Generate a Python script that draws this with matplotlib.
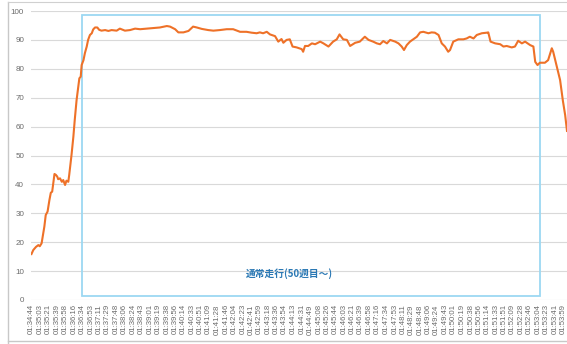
import matplotlib
matplotlib.use("Agg")
import matplotlib.pyplot as plt
from matplotlib.patches import Rectangle
from matplotlib.lines import Line2D

# ---- data ----
tick_labels = [
    "01:34:44", "01:35:03", "01:35:21", "01:35:39", "01:35:58", "01:36:16", "01:36:34", "01:36:53",
    "01:37:11", "01:37:29", "01:37:48", "01:38:06", "01:38:24", "01:38:43", "01:39:01", "01:39:19",
    "01:39:38", "01:39:56", "01:40:14", "01:40:33", "01:40:51", "01:41:09", "01:41:28", "01:41:46",
    "01:42:04", "01:42:23", "01:42:41", "01:42:59", "01:43:18", "01:43:36", "01:43:54", "01:44:13",
    "01:44:31", "01:44:49", "01:45:08", "01:45:26", "01:45:44", "01:46:03", "01:46:21", "01:46:39",
    "01:46:58", "01:47:16", "01:47:34", "01:47:53", "01:48:11", "01:48:29", "01:48:48", "01:49:06",
    "01:49:24", "01:49:43", "01:50:01", "01:50:19", "01:50:38", "01:50:56", "01:51:14", "01:51:33",
    "01:51:51", "01:52:09", "01:52:28", "01:52:46", "01:53:04", "01:53:23", "01:53:41", "01:53:59",
]

# elapsed seconds since 01:34:44
elapsed_s = [
    0, 4, 10, 15, 18, 22, 28, 31, 35, 39, 42, 45, 50, 53, 56, 58, 62, 66, 69, 73,
    76, 80, 82, 85, 87, 91, 94, 98, 102, 104, 107, 109, 113, 116, 120, 123, 127, 131, 134, 138,
    143, 147, 152, 160, 167, 174, 185, 192, 203, 214, 225, 236, 250, 265, 279, 294, 301, 312, 319, 330,
    341, 351, 359, 370, 384, 395, 409, 424, 438, 453, 467, 478, 489, 496, 503, 511, 518, 529, 536, 543,
    547, 554, 561, 567, 576, 587, 590, 594, 601, 609, 616, 627, 634, 645, 655, 663, 669, 677, 685, 692,
    703, 713, 724, 732, 742, 750, 757, 764, 772, 779, 790, 797, 804, 809, 815, 822, 829, 837, 844, 851,
    862, 869, 876, 884, 891, 898, 905, 909, 916, 927, 938, 945, 952, 960, 967, 978, 989, 992, 997, 1007,
    1018, 1025, 1032, 1043, 1050, 1057, 1065, 1072, 1083, 1090, 1094, 1099, 1104, 1115, 1122, 1130, 1133, 1141, 1148, 1154,
    1159, 1163,
]
values = [
    15.9, 17.3, 18.4, 19.0, 18.6, 19.6, 25.4, 29.4, 30.6, 34.6, 37.1, 37.5, 43.6, 43.3, 42.7, 41.8, 42.1, 40.9, 41.5, 39.8,
    41.3, 40.9, 43.3, 47.3, 50.2, 56.5, 62.3, 69.2, 74.4, 76.7, 77.3, 81.3, 83.0, 85.4, 87.7, 90.0, 91.7, 92.3, 93.6, 94.3,
    94.3, 93.5, 93.2, 93.4, 93.1, 93.4, 93.2, 93.9, 93.2, 93.4, 93.9, 93.7, 93.9, 94.1, 94.3, 94.8, 94.6, 93.7, 92.6, 92.6,
    93.1, 94.6, 94.3, 93.8, 93.4, 93.2, 93.4, 93.7, 93.7, 92.8, 92.8, 92.5, 92.3, 92.6, 92.3, 92.8, 91.9, 91.3, 89.4, 90.3,
    89.0, 90.0, 90.2, 87.7, 87.4, 86.8, 85.9, 87.9, 87.9, 88.8, 88.5, 89.4, 88.8, 87.7, 89.4, 90.2, 91.9, 90.2, 90.0, 87.9,
    89.0, 89.4, 91.1, 90.0, 89.4, 88.8, 88.5, 89.6, 88.8, 90.0, 89.4, 88.8, 87.7, 86.5, 88.2, 89.4, 90.2, 91.1, 92.6, 92.8,
    92.3, 92.6, 92.5, 91.7, 88.8, 87.7, 85.9, 86.5, 89.4, 90.2, 90.2, 90.5, 91.1, 90.5, 91.7, 92.3, 92.5, 92.6, 89.4, 88.8,
    88.5, 87.7, 87.9, 87.4, 87.7, 89.7, 88.8, 89.4, 88.2, 87.7, 82.4, 81.3, 82.1, 82.1, 83.0, 87.1, 85.9, 80.7, 76.1, 69.0,
    64.0, 58.5,
]

region_label = "通常走行(50週目～)"
region_start_s, region_end_s = 110, 1104
region_low, region_high = 1.5, 98.6

y_ticks = list(range(0, 101, 10))


def to_seconds(s):
    h, m, sec = (int(p) for p in s.split(":"))
    return h * 3600 + m * 60 + sec


t0 = to_seconds(tick_labels[0])
tick_pos = [to_seconds(s) - t0 for s in tick_labels]

# ---- figure ----
W, H = 567, 344
fig = plt.figure(figsize=(W / 100, H / 100), dpi=100)
fig.patch.set_facecolor("white")

ax = fig.add_axes([31.0 / W, 44.0 / H, 1 - 31.0 / W, 289.0 / H])
ax.set_facecolor("white")

ax.plot(elapsed_s, values, color="#EE7128", lw=1.5, solid_joinstyle="round", zorder=3)

ax.set_xlim(-1, 1163)
ax.set_ylim(0, 100)
ax.set_yticks(y_ticks)
ax.set_xticks(tick_pos)
ax.set_xticklabels(tick_labels, rotation=90, va="top", ha="center",
                   fontsize=5.6, color="#6b6b6b", family="Liberation Sans")
ax.set_yticklabels([str(v) for v in y_ticks], fontsize=5.8, color="#6b6b6b",
                   family="Liberation Sans")
ax.tick_params(axis="both", length=0)
ax.tick_params(axis="x", pad=3)
ax.tick_params(axis="y", pad=5)
for sp in ax.spines.values():
    sp.set_visible(False)
ax.yaxis.grid(True, color="#d9d9d9", lw=0.8, zorder=0)
ax.set_axisbelow(True)

ax.add_patch(Rectangle((region_start_s, region_low), region_end_s - region_start_s,
                       region_high - region_low, fill=False, edgecolor="#9cd8f2",
                       lw=1.3, zorder=2))
ax.text(561, 9.3, region_label, ha="center", va="center", fontsize=7,
        fontweight="bold", color="#2a78b4", family=["Noto Sans CJK JP", "DejaVu Sans"],
        zorder=4)

# chart-area border (left & bottom, top)
fig.add_artist(Line2D([7.5 / W, 7.5 / W], [0, 1 - 2 / H], color="#c8c8c8", lw=1.0,
                      transform=fig.transFigure))
fig.add_artist(Line2D([7.5 / W, 1], [1 - 340.5 / H, 1 - 340.5 / H], color="#c8c8c8", lw=1.0,
                      transform=fig.transFigure))
fig.add_artist(Line2D([7.5 / W, 1], [1 - 1.5 / H, 1 - 1.5 / H], color="#d0d0d0", lw=0.8,
                      transform=fig.transFigure))

fig.savefig("out.png", dpi=100)
